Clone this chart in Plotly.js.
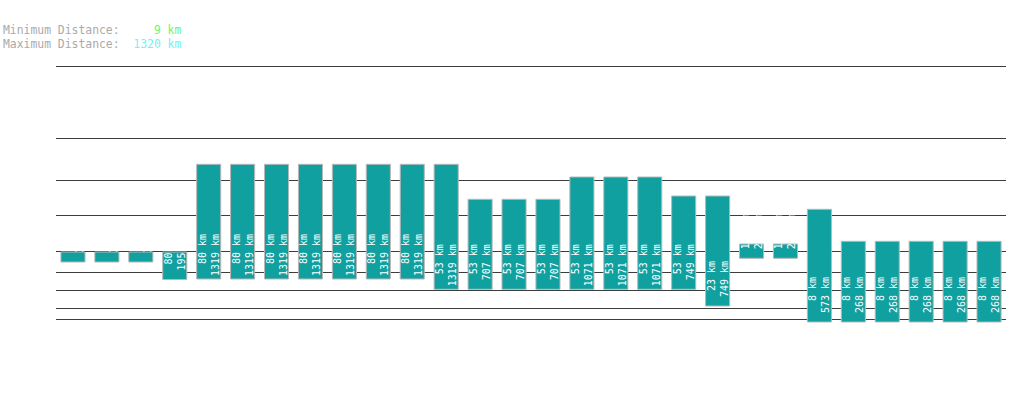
<!DOCTYPE html>
<html>
<head>
<meta charset="utf-8">
<script src="https://cdn.plot.ly/plotly-3.0.1.min.js"></script>
<style>
  html, body { margin: 0; padding: 0; background: #ffffff; }
  #chart { width: 1019px; height: 402px; }
</style>
</head>
<body>
<div id="chart"></div>
<script>
// ---- data ----
const categories = ["R01","R02","R03","R04","R05","R06","R07","R08","R09","R10",
                    "R11","R12","R13","R14","R15","R16","R17","R18","R19","R20",
                    "R21","R22","R23","R24","R25","R26","R27","R28"];
const minKm = [9, 9, 9, 80, 80, 80, 80, 80, 80, 80, 80, 53, 53, 53, 53, 53, 53, 53, 53, 23, 143, 143, 8, 8, 8, 8, 8, 8];
const maxKm = [120, 120, 120, 195, 1319, 1319, 1319, 1319, 1319, 1319, 1319, 1319, 707, 707, 707, 1071, 1071, 1071, 749, 749, 268, 268, 573, 268, 268, 268, 268, 268];
// bar extents on the (unlabelled) vertical axis
const barLow  = [68, 68, 68, 50.5, 51, 51, 51, 51, 51, 51, 51, 40.7, 40.7, 40.7, 40.7, 40.7, 40.7, 40.7, 40.7, 24, 71.7, 71.7, 8, 8, 8, 8, 8, 8];
const barHigh = [78, 78, 78, 78, 165.7, 165.7, 165.7, 165.7, 165.7, 165.7, 165.7, 165.7, 130.7, 130.7, 130.7, 153, 153, 153, 134, 134, 86, 86, 120.7, 88.7, 88.7, 88.7, 88.7, 88.7];
// horizontal reference lines
const gridVals = [264, 191.7, 150, 114.7, 78.7, 57.3, 40, 21.7, 11];
const overallMin = 9;
const overallMax = 1320;

// ---- build ----
const NB = "\u00A0";
function pad(s, n) { while (s.length < n) s = NB + s; return s; }
const labelWidth = 7;
const texts = minKm.map((m, i) =>
  pad(m + NB + "km", labelWidth) + "<br>" + pad(maxKm[i] + NB + "km", labelWidth));

const trace = {
  type: "bar",
  x: categories,
  base: barLow,
  y: barHigh.map((h, i) => h - barLow[i]),
  text: texts,
  textposition: "inside",
  insidetextanchor: "start",
  textangle: -90,
  constraintext: "none",
  textfont: { family: "DejaVu Sans Mono, monospace", size: 10, color: "#ffffff" },
  marker: { color: "#11a0a0", line: { color: "#b8b8b8", width: 1 } },
  hoverinfo: "skip"
};

const mono = "DejaVu Sans Mono, monospace";
const layout = {
  width: 1019, height: 402,
  margin: { l: 56, r: 13, t: 60, b: 72 },
  paper_bgcolor: "#ffffff",
  plot_bgcolor: "#ffffff",
  showlegend: false,
  bargap: 0.29,
  xaxis: { type: "category", visible: false, fixedrange: true },
  yaxis: {
    range: [0, 270], tickmode: "array", tickvals: gridVals,
    showticklabels: false, ticks: "", showgrid: true,
    gridcolor: "#3c3c3c", gridwidth: 1, zeroline: false, showline: false, fixedrange: true
  },
  annotations: [
    {
      xref: "paper", yref: "paper", x: (1 - 56) / 950, y: (330 - 29.8) / 270,
      xanchor: "left", yanchor: "middle", showarrow: false,
      font: { family: mono, size: 11.4, color: "#aaaaaa" },
      text: "Minimum Distance:" + NB.repeat(5) + "<span style='color:#6cf56c'>" + overallMin + NB + "km</span>"
    },
    {
      xref: "paper", yref: "paper", x: (1 - 56) / 950, y: (330 - 43.8) / 270,
      xanchor: "left", yanchor: "middle", showarrow: false,
      font: { family: mono, size: 11.4, color: "#aaaaaa" },
      text: "Maximum Distance:" + NB.repeat(2) + "<span style='color:#6cf5f5'>" + overallMax + NB + "km</span>"
    }
  ]
};

Plotly.newPlot("chart", [trace], layout, { displayModeBar: false, staticPlot: true });
</script>
</body>
</html>
